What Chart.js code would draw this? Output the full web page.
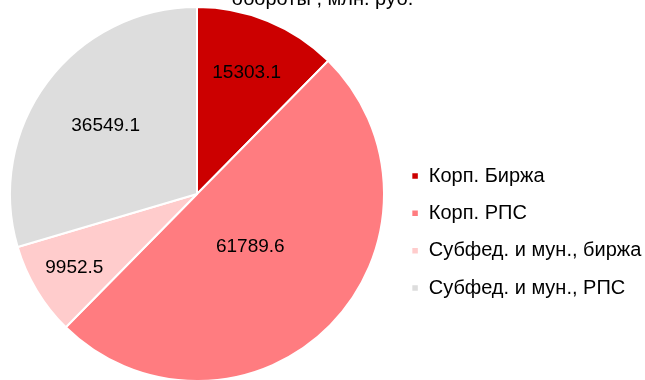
<!DOCTYPE html>
<html>
<head>
<meta charset="utf-8">
<script src="https://cdn.jsdelivr.net/npm/chart.js@4/dist/chart.umd.min.js"></script>
<style>
  html, body { margin: 0; padding: 0; background: #fff; }
  #wrap { position: relative; width: 645px; height: 380px; overflow: hidden; }
  #wrap canvas { position: absolute; left: 0; top: -8px; }
</style>
</head>
<body>
<div id="wrap">
  <canvas id="pie" width="645" height="390"></canvas>
</div>
<script>
const categories = ['Корп. Биржа', 'Корп. РПС', 'Субфед. и мун., биржа', 'Субфед. и мун., РПС'];
const turnover = [15303.1, 61789.6, 9952.5, 36549.1];
const sliceColors = ['#CC0000', '#FF7C80', '#FFCCCC', '#DDDDDD'];
// how far out from the centre each value label sits (share of radius)
const labelRadius = [0.70, 0.40, 0.765, 0.61];

const FONT = "'Liberation Sans', Arial, sans-serif";

const valueLabels = {
    id: 'valueLabels',
    afterDatasetsDraw(chart) {
        const ctx = chart.ctx;
        const meta = chart.getDatasetMeta(0);
        ctx.save();
        ctx.font = '19px ' + FONT;
        ctx.fillStyle = '#000';
        ctx.textAlign = 'center';
        ctx.textBaseline = 'middle';
        meta.data.forEach((arc, i) => {
            const p = arc.getProps(['x', 'y', 'startAngle', 'endAngle', 'outerRadius'], true);
            const mid = (p.startAngle + p.endAngle) / 2;
            const r = p.outerRadius * labelRadius[i];
            ctx.fillText(turnover[i].toFixed(1), p.x + Math.cos(mid) * r, p.y + Math.sin(mid) * r);
        });
        ctx.restore();
    }
};

new Chart(document.getElementById('pie'), {
    type: 'pie',
    data: {
        labels: categories,
        datasets: [{
            data: turnover,
            backgroundColor: sliceColors,
            borderColor: '#fff',
            borderWidth: 2
        }]
    },
    options: {
        responsive: false,
        animation: false,
        devicePixelRatio: 1,
        events: [],
        layout: { padding: 0 },
        plugins: {
            title: {
                display: true,
                text: 'обороты , млн. руб.',
                color: '#000',
                font: { family: FONT, size: 20, weight: 'normal', lineHeight: 0.7 },
                padding: 0
            },
            legend: {
                position: 'right',
                maxWidth: 251,
                title: {
                    display: true,
                    text: '',
                    font: { size: 10, lineHeight: 1 },
                    padding: { top: 80, bottom: 0 }
                },
                labels: {
                    boxWidth: 7.5,
                    boxHeight: 7.5,
                    padding: 17.33,
                    color: '#000',
                    font: { family: FONT, size: 20 }
                }
            },
            tooltip: { enabled: false }
        }
    },
    plugins: [valueLabels]
});
</script>
</body>
</html>
